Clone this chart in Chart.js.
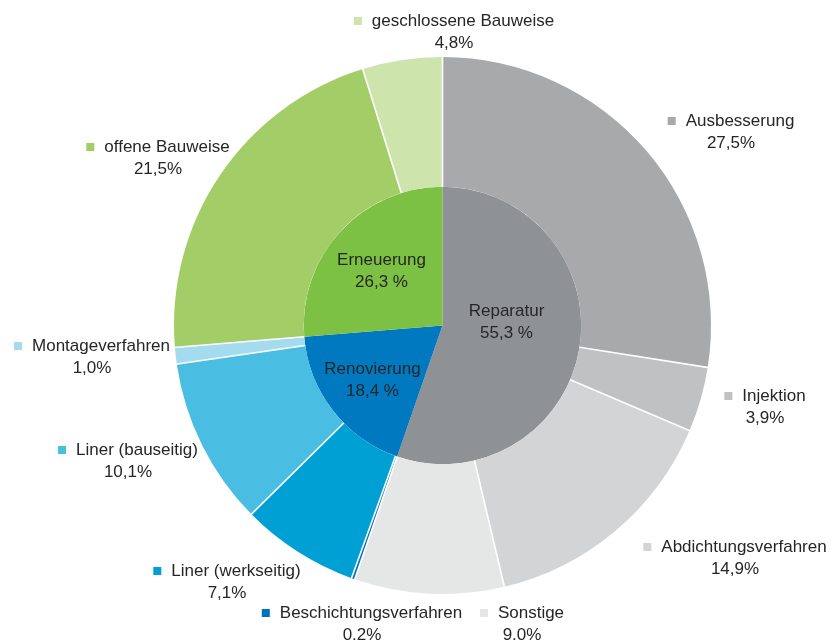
<!DOCTYPE html>
<html>
<head>
<meta charset="utf-8">
<script src="https://cdn.jsdelivr.net/npm/chart.js@4.4.1/dist/chart.umd.min.js"></script>
<style>
  body { margin: 0; background: #fff; }
  #wrap { width: 834px; height: 642px; position: relative; }
</style>
</head>
<body>
<div id="wrap"><canvas id="sunburst"></canvas></div>
<script>
// inner pie: main categories
const innerLabels = ['Reparatur', 'Renovierung', 'Erneuerung'];
const innerValues = [55.3, 18.4, 26.3];
const innerText = ['55,3 %', '18,4 %', '26,3 %'];
const innerColors = ['#8f9294', '#0079c1', '#7cc143'];

// outer ring: methods
const outerLabels = ['Ausbesserung', 'Injektion', 'Abdichtungsverfahren', 'Sonstige',
  'Beschichtungsverfahren', 'Liner (werkseitig)', 'Liner (bauseitig)', 'Montageverfahren',
  'offene Bauweise', 'geschlossene Bauweise'];
const outerValues = [27.5, 3.9, 14.9, 9.0, 0.2, 7.1, 10.1, 1.0, 21.5, 4.8];
const outerText = ['27,5%', '3,9%', '14,9%', '9.0%', '0.2%', '7,1%', '10,1%', '1,0%', '21,5%', '4,8%'];
const outerColors = ['#a7a9aa', '#bfc1c2', '#d2d4d5', '#e5e6e6', '#0071bd', '#00a0d5',
  '#4abde2', '#a5dbee', '#a3cd66', '#cde4ac'];

// label placement, offsets from the pie centre for the inner ones
const innerSpots = [[64, -3], [-70, 55], [-61, -54]];
// outer ones: block centre x, first line y
const labelSpots = [[731, 121], [765, 396], [735, 547], [522, 613], [362, 613],
  [227, 571], [128, 450], [92, 346], [158, 147], [454, 21]];

const FONT = '17px "Liberation Sans", Arial, sans-serif';
const TEXT = '#262626';

const separators = {
  id: 'separators',
  afterDatasetsDraw(chart) {
    const ctx = chart.ctx;
    const arcs = chart.getDatasetMeta(0).data;
    ctx.save();
    ctx.strokeStyle = '#ffffff';
    ctx.lineWidth = 1.6;
    arcs.forEach(arc => {
      const a = arc.startAngle;
      ctx.beginPath();
      ctx.moveTo(arc.x + Math.cos(a) * arc.innerRadius, arc.y + Math.sin(a) * arc.innerRadius);
      ctx.lineTo(arc.x + Math.cos(a) * (arc.outerRadius + 1), arc.y + Math.sin(a) * (arc.outerRadius + 1));
      ctx.stroke();
    });
    ctx.restore();
  }
};

const labels = {
  id: 'labels',
  afterDraw(chart) {
    const ctx = chart.ctx;
    ctx.save();
    ctx.font = FONT;
    ctx.fillStyle = TEXT;
    ctx.textBaseline = 'middle';

    // inner labels
    const inner = chart.getDatasetMeta(1).data;
    inner.forEach((arc, i) => {
      const cx = arc.x + innerSpots[i][0];
      const cy = arc.y + innerSpots[i][1];
      ctx.textAlign = 'center';
      ctx.fillText(innerLabels[i], cx, cy - 11);
      ctx.fillText(innerText[i], cx, cy + 11);
    });

    // outer labels with colour square
    outerLabels.forEach((name, i) => {
      const [cx, y] = labelSpots[i];
      const w = ctx.measureText(name).width;
      const total = 8 + 10 + w;
      const left = cx - total / 2;
      ctx.fillStyle = outerColors[i];
      ctx.fillRect(left, y - 4, 8, 8);
      ctx.fillStyle = TEXT;
      ctx.textAlign = 'left';
      ctx.fillText(name, left + 18, y);
      ctx.textAlign = 'center';
      ctx.fillText(outerText[i], cx, y + 22);
    });
    ctx.restore();
  }
};

new Chart(document.getElementById('sunburst'), {
  type: 'pie',
  data: {
    labels: outerLabels,
    datasets: [
      { data: outerValues, backgroundColor: outerColors, borderWidth: 0, weight: 130 },
      { data: innerValues, backgroundColor: innerColors, borderWidth: 0, weight: 139 }
    ]
  },
  options: {
    responsive: true,
    maintainAspectRatio: false,
    animation: false,
    layout: { padding: { top: 57, bottom: 48, left: 174, right: 123 } },
    plugins: {
      legend: { display: false },
      tooltip: { enabled: false }
    }
  },
  plugins: [separators, labels]
});
</script>
</body>
</html>
